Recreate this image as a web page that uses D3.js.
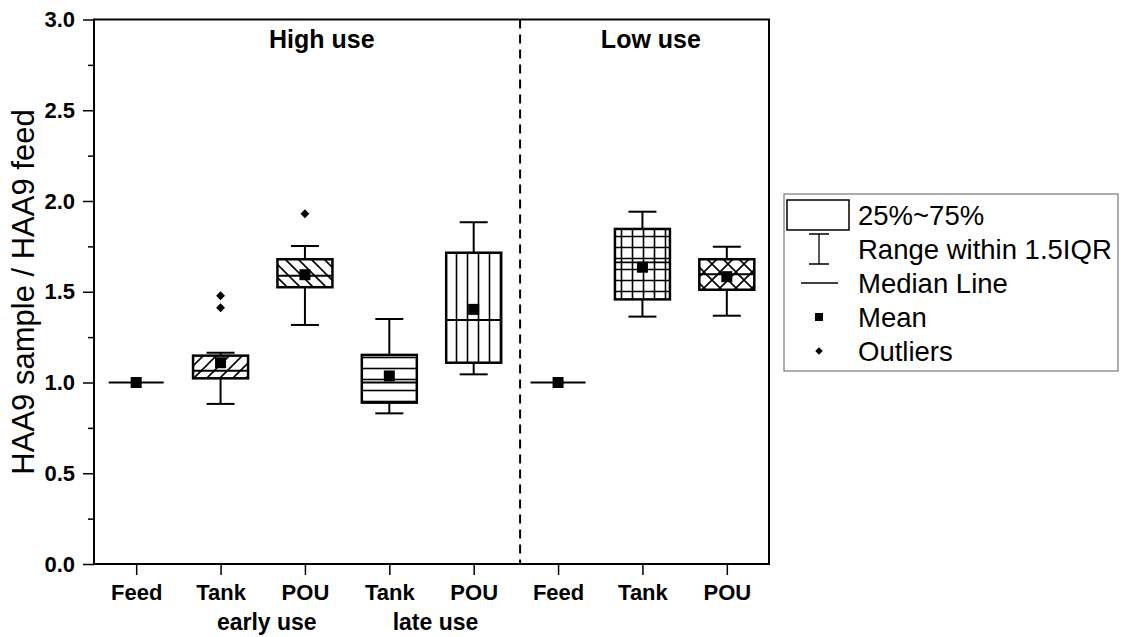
<!DOCTYPE html>
<html>
<head>
<meta charset="utf-8">
<script src="https://cdn.jsdelivr.net/npm/d3@7"></script>
<style>
  body { margin: 0; background: #fff; }
  svg { font-family: Arial, "Liberation Sans", sans-serif; }
</style>
</head>
<body>
<svg id="chart" width="1121" height="637"></svg>
<script>
// categories along the x axis
const categories = ["Feed", "Tank", "POU", "Tank", "POU", "Feed", "Tank", "POU"];
const subGroups = [{ label: "early use", from: 2, to: 3 }, { label: "late use", from: 4, to: 5 }];
const panels = [{ label: "High use", at: 3.2 }, { label: "Low use", at: 7.1 }];

// box statistics (ratio sample / feed)
const q1 =        [1.0, 1.023, 1.525, 0.889, 1.109, 1.0, 1.458, 1.511];
const median =    [1.0, 1.065, 1.588, 1.000, 1.344, 1.0, 1.662, 1.596];
const q3 =        [1.0, 1.148, 1.679, 1.152, 1.715, 1.0, 1.846, 1.679];
const whiskLow =  [1.0, 0.882, 1.317, 0.830, 1.045, 1.0, 1.363, 1.368];
const whiskHigh = [1.0, 1.164, 1.752, 1.350, 1.883, 1.0, 1.941, 1.748];
const means =     [1.0, 1.109, 1.594, 1.036, 1.403, 1.0, 1.635, 1.583];
const outliers = [[], [1.478, 1.412], [1.930], [], [], [], [], []];
const fills = [null, "fwd", "back", "horiz", "vert", null, "grid", "cross"];

const yMajor = [0, 0.5, 1.0, 1.5, 2.0, 2.5, 3.0];
const yMinor = [0.25, 0.75, 1.25, 1.75, 2.25, 2.75];

const legendLabels = ["25%~75%", "Range within 1.5IQR", "Median Line", "Mean", "Outliers"];

const svg = d3.select("#chart");

const x = d3.scaleLinear().domain([0.5, 8.5]).range([94, 769]);
const y = d3.scaleLinear().domain([0, 3]).range([564, 19.5]);
const boxW = 55, capW = 28;

// hatch patterns
const defs = svg.append("defs");
function pattern(id, size, d) {
  const p = defs.append("pattern").attr("id", id)
    .attr("patternUnits", "userSpaceOnUse")
    .attr("width", size).attr("height", size);
  p.append("rect").attr("width", size).attr("height", size).attr("fill", "#fff");
  p.append("path").attr("d", d).attr("stroke", "#000").attr("stroke-width", 1.6)
    .attr("fill", "none");
}
pattern("fwd", 13, "M-2,2 L2,-2 M0,13 L13,0 M11,15 L15,11");
pattern("back", 13, "M-2,11 L2,15 M0,0 L13,13 M11,-2 L15,2");
pattern("horiz", 11, "M0,5.5 L11,5.5");
pattern("vert", 11, "M5.5,0 L5.5,11");
pattern("grid", 11, "M0,5.5 L11,5.5 M5.5,0 L5.5,11");
pattern("cross", 16, "M0,0 L16,16 M16,0 L0,16");

// frame
svg.append("rect")
  .attr("x", x.range()[0]).attr("y", y.range()[1])
  .attr("width", x.range()[1] - x.range()[0])
  .attr("height", y.range()[0] - y.range()[1])
  .attr("fill", "none").attr("stroke", "#000").attr("stroke-width", 2);

// divider between panels
svg.append("line")
  .attr("x1", x(5.55)).attr("x2", x(5.55))
  .attr("y1", y(3)).attr("y2", y(0))
  .attr("stroke", "#000").attr("stroke-width", 2)
  .attr("stroke-dasharray", "9,6");

// axes
const yAxis = svg.append("g").attr("transform", "translate(94,0)")
  .call(d3.axisLeft(y).tickValues(yMajor).tickFormat(d3.format(".1f")).tickSize(11));
svg.append("g").attr("transform", "translate(94,0)")
  .call(d3.axisLeft(y).tickValues(yMinor).tickFormat("").tickSize(6))
  .select(".domain").remove();
yAxis.select(".domain").remove();
yAxis.selectAll("text")
  .attr("x", -19)
  .style("font-size", "22px").style("font-weight", "bold").style("fill", "#000");

const xAxis = svg.append("g").attr("transform", "translate(0,564)")
  .call(d3.axisBottom(x).tickValues(d3.range(1, 9)).tickFormat(i => categories[i - 1]).tickSize(11));
xAxis.select(".domain").remove();
xAxis.selectAll("text")
  .attr("y", 20)
  .style("font-size", "22px").style("font-weight", "bold").style("fill", "#000");
svg.selectAll(".tick line").attr("stroke", "#000").attr("stroke-width", 1.5);

svg.append("g").selectAll("text").data(subGroups).enter().append("text")
  .attr("x", d => (x(d.from) + x(d.to)) / 2 + 4).attr("y", 630)
  .attr("text-anchor", "middle")
  .style("font-size", "23px").style("font-weight", "bold")
  .text(d => d.label);

svg.append("g").selectAll("text").data(panels).enter().append("text")
  .attr("x", d => x(d.at))
  .attr("y", 48)
  .attr("text-anchor", "middle")
  .style("font-size", "25px").style("font-weight", "bold")
  .text(d => d.label);

// y title
svg.append("text")
  .attr("transform", "translate(34,292) rotate(-90)")
  .attr("text-anchor", "middle")
  .style("font-size", "31px")
  .text("HAA9 sample / HAA9 feed");

// boxes
const data = categories.map((c, i) => ({
  pos: i + 1, q1: q1[i], med: median[i], q3: q3[i],
  lo: whiskLow[i], hi: whiskHigh[i], mean: means[i], out: outliers[i], fill: fills[i]
}));

const box = svg.append("g").selectAll("g").data(data).enter().append("g");

box.append("line")
  .attr("x1", d => x(d.pos)).attr("x2", d => x(d.pos))
  .attr("y1", d => y(d.hi)).attr("y2", d => y(d.q3))
  .attr("stroke", "#000").attr("stroke-width", 2);
box.append("line")
  .attr("x1", d => x(d.pos)).attr("x2", d => x(d.pos))
  .attr("y1", d => y(d.q1)).attr("y2", d => y(d.lo))
  .attr("stroke", "#000").attr("stroke-width", 2);
box.filter(d => d.hi !== d.lo).selectAll(".cap").data(d => [d, d].map((e, k) => ({ pos: e.pos, v: k ? e.lo : e.hi })))
  .enter().append("line")
  .attr("x1", d => x(d.pos) - capW / 2).attr("x2", d => x(d.pos) + capW / 2)
  .attr("y1", d => y(d.v)).attr("y2", d => y(d.v))
  .attr("stroke", "#000").attr("stroke-width", 2);

box.append("rect")
  .attr("x", d => x(d.pos) - boxW / 2).attr("width", boxW)
  .attr("y", d => y(d.q3)).attr("height", d => y(d.q1) - y(d.q3))
  .attr("fill", d => d.fill ? `url(#${d.fill})` : "none")
  .attr("stroke", "#000").attr("stroke-width", d => d.fill ? 2.5 : 1.5);

box.append("line")
  .attr("x1", d => x(d.pos) - boxW / 2).attr("x2", d => x(d.pos) + boxW / 2)
  .attr("y1", d => y(d.med)).attr("y2", d => y(d.med))
  .attr("stroke", "#000").attr("stroke-width", d => d.fill === "grid" ? 1.6 : 2);

box.append("rect")
  .attr("x", d => x(d.pos) - 5.5).attr("y", d => y(d.mean) - 5.5)
  .attr("width", 11).attr("height", 11).attr("fill", "#000");

box.selectAll(".out").data(d => d.out.map(v => ({ pos: d.pos, v })))
  .enter().append("path")
  .attr("d", d3.symbol(d3.symbolDiamond2, 50))
  .attr("transform", d => `translate(${x(d.pos)},${y(d.v)})`)
  .attr("fill", "#000");

// legend
const lg = svg.append("g");
lg.append("rect").attr("x", 784).attr("y", 194).attr("width", 334).attr("height", 177)
  .attr("fill", "#fff").attr("stroke", "#777").attr("stroke-width", 1.2);
const rowY = legendLabels.map((_, i) => 215 + i * 34);
lg.selectAll("text").data(legendLabels).enter().append("text")
  .attr("x", 858).attr("y", (d, i) => rowY[i])
  .attr("dy", "0.36em")
  .style("font-size", "27.5px")
  .text(d => d);
lg.append("rect").attr("x", 787).attr("y", 200).attr("width", 62).attr("height", 30)
  .attr("fill", "none").attr("stroke", "#000").attr("stroke-width", 1.5);
lg.append("path")
  .attr("d", `M809,${rowY[1] - 15} H829 M819,${rowY[1] - 15} V${rowY[1] + 15} M809,${rowY[1] + 15} H829`)
  .attr("stroke", "#000").attr("stroke-width", 1.3).attr("fill", "none");
lg.append("line").attr("x1", 801).attr("x2", 838).attr("y1", rowY[2]).attr("y2", rowY[2])
  .attr("stroke", "#000").attr("stroke-width", 1.3);
lg.append("rect").attr("x", 815).attr("y", rowY[3] - 4).attr("width", 8).attr("height", 8)
  .attr("fill", "#000");
lg.append("path").attr("d", d3.symbol(d3.symbolDiamond2, 36))
  .attr("transform", `translate(819,${rowY[4]})`).attr("fill", "#000");
</script>
</body>
</html>
